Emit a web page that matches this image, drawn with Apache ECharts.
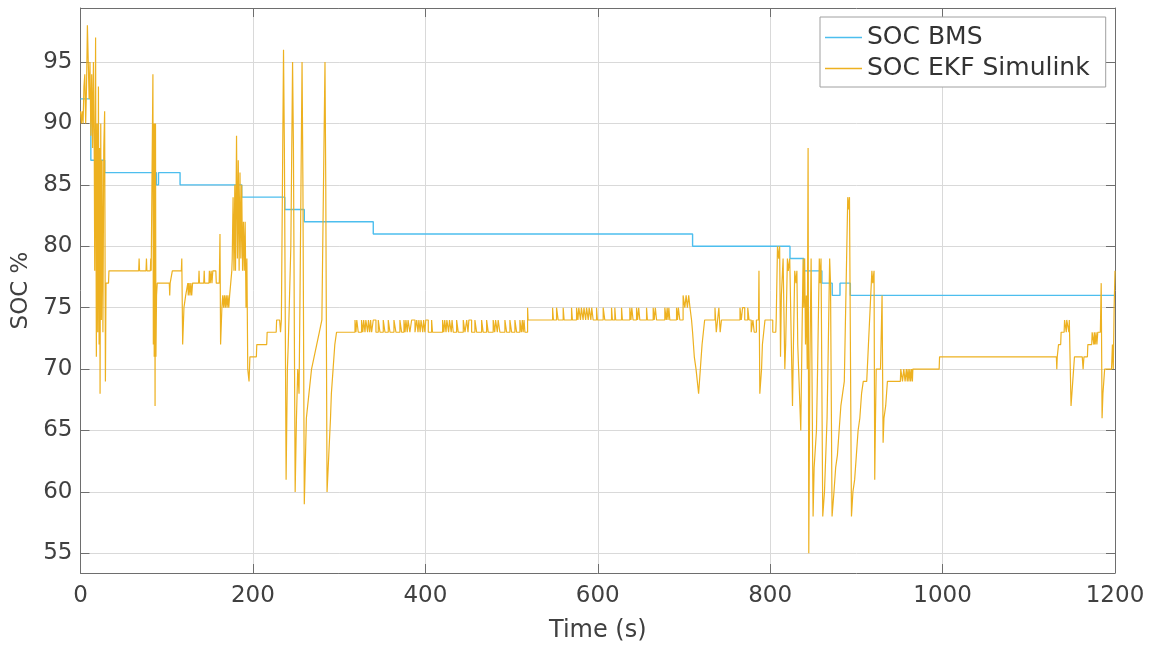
<!DOCTYPE html>
<html>
<head>
<meta charset="utf-8">
<script src="https://cdn.jsdelivr.net/npm/echarts@6/dist/echarts.min.js"></script>
<style>html,body{margin:0;padding:0;background:#fff;}#chart{width:1153px;height:648px;}</style>
</head>
<body>
<div id="chart"></div>
<script>
const seriesNames = ['SOC BMS', 'SOC EKF Simulink'];
const xTicks = [0, 200, 400, 600, 800, 1000, 1200];
const yTicks = [55, 60, 65, 70, 75, 80, 85, 90, 95];

// SOC BMS: [time s, SOC %] at each change (held until next point)
const socBms = [
  [0,92],[12,87],[28,86],[88,85],[90.5,86],[115.5,85],[187,84],[237,83],[259.6,82],[339.6,81],
  [710,80],[823,79],[839,78],[860,77],[872,76],[881,77],[893,76],[1200,76]
];

// SOC EKF Simulink: [time s, SOC %]
const socEkf = [
  [0,91],[1,90],[2,91],[3,90],[4,93],[5,94],[6,90],[7,93],[8,98],[9,95],[10,92],[11,95],[12,89],[13,94],[14,88],[15,95],[16,87],[16.5,78],[17.5,97],[18.4,71],[19.2,90],[20,73],[20.8,93],[21.6,72],[22.2,88],[22.7,68],[23.5,90],[24.2,74],[25,87],[26,73],[27,88],[28,91],[28.9,69],[29.6,77],[32.5,77],[33,78],
  [67.5,78],[68,79],[68.5,78],[76,78],[76.5,79],[77,78],[81,78],[81.5,79],[82,78],[83.5,78],[84,94],[84.5,72],[85,90],[85.5,71],[86,90],[86.5,67],[87,90],[87.5,71],[88.2,76],[89,77],
  [103,77],[103.5,76],[104,77],[106,77],[106.5,78],[117,78],[117.5,79],[118.5,72],[120,75],[121,75],[122,76],[124,76],[124.5,77],[125,76],[126,77],[127,76],[128,77],[129,76],[130,77],[137,77],[137.5,78],[138,77],[143,77],[143.5,78],[144,77],[149,77],[149.5,78],[150.5,77],[151.5,78],[152.5,77],[153.5,78],[157,78],[157.5,77],[161,77],[161.8,81],[162.5,72],[164,75],[165,76],[166,75],[167,76],[168,75],[169,76],[170,75],[171,76],[172,75],[173,76],[175,76],[175.5,78],[176,79],[177,84],[178,78],[179,85],[179.8,78],[181,89],[182,79],[183,87],[184,78],[185,86],[186,79],[187,85],[188,78],[189,82],[190,78],[191,82],[192,75],[193,79],[194,70],[195.5,69],[196.5,71],[204,71],[204.5,72],[216,72],[216.5,73],[227,73],[227.5,74],[231,74],[232,73],[233,74],
  [235.5,96],[236.5,88],[238.5,61],[240,70],[241,72],[243,72],[244,80],[246,95],[247,88],[249,60],[250.5,66],[252,70],[253.5,68],[254.5,75],[257,95],[258,85],[259.6,59],[261,63],[262,66],[264,66],[265,68],[267,68],[268,70],[270,70],[271,71],[273,71],[274,72],[276,72],[277,73],[279,73],[280,74],[281,80],[283.6,95],[284.5,85],[286,60],[288,63],[290,66],[291,68],[293,70],[295,72],[297,73],[301,73],
  [318.4,73],[318.4,74],[319.5,74],[319.5,73],[320.5,73],[320.5,74],[322.2,74],[322.2,73],
  [326,73],[326,74],[327.5,74],[327.5,73],[328.5,73],[328.5,74],[330,74],[330,73],
  [331,73],[331,74],[333,74],[333,73],[334,73],[334,74],[335.5,74],[335.5,73],
  [336.5,73],[336.5,74],[337.7,74],[337.7,73],[339.6,73],[339.6,74],[342.7,74],[342.7,73],
  [345.4,73],[345.4,74],[347.4,74],[347.4,73],[351.2,73],[351.2,74],[353.2,74],[353.2,73],
  [357,73],[357,74],[359,74],[359,73],[363.6,73],[363.6,74],[365.9,74],[365.9,73],
  [370.5,73],[370.5,74],[372.5,74],[372.5,73],[375.2,73],[375.2,74],[376.5,74],[376.5,73],
  [377.5,73],[377.5,74],[379,74],[379,73],[380,73],[380,74],[382.1,74],[382.1,73],
  [384.1,73],[384.1,74],[388,74],[388,73],[390,73],[390,74],[391.5,74],[391.5,73],
  [392.5,73],[392.5,74],[394,74],[394,73],[395,73],[395,74],[397,74],[397,73],
  [398,73],[398,74],[399.5,74],[399.5,73],[400.5,73],[400.5,74],[403.4,74],[403.4,73],
  [407.3,73],[407.3,74],[408.3,74],[408.3,73],[420,73],[420,74],[421.5,74],[421.5,73],
  [422.5,73],[422.5,74],[424,74],[424,73],[425,73],[425,74],[427,74],[427,73],
  [428,73],[428,74],[430,74],[430,73],[431,73],[431,74],[432.4,74],[432.4,73],
  [436.3,73],[436.3,74],[438.2,74],[438.2,73],[444,73],[444,74],[446,74],[446,73],
  [448,73],[448,74],[449.5,74],[449.5,73],[450.5,73],[450.5,74],[453.7,74],[453.7,73],
  [457.5,73],[457.5,74],[459.5,74],[459.5,73],[465.3,73],[465.3,74],[467.1,74],[467.1,73],
  [471.1,73],[471.1,74],[473,74],[473,73],[478.7,73],[478.7,74],[480.5,74],[480.5,73],
  [481.5,73],[481.5,74],[483.5,74],[483.5,73],[484.5,73],[484.5,74],[486.5,74],[486.5,73],
  [492.3,73],[492.3,74],[494.3,74],[494.3,73],[498.1,73],[498.1,74],[500.1,74],[500.1,73],
  [503.9,73],[503.9,74],[505.9,74],[505.9,73],[509.7,73],[509.7,74],[511.5,74],[511.5,73],
  [512.5,73],[512.5,74],[513.5,74],[513.5,73],[514.5,73],[514.5,74],[515.5,74],[515.5,73],
  [518.6,73],[518.6,75],[519.2,74],
  [547.6,74],[547.6,75],[548.6,75],[548.6,74],[552.2,74],[552.2,75],[554.1,75],[554.1,74],
  [559.9,74],[559.9,75],[561,75],[561,74],[569.6,74],[569.6,75],[570.6,75],[570.6,74],
  [575.4,74],[575.4,75],[577,75],[577,74],[578,74],[578,75],[580,75],[580,74],
  [581,74],[581,75],[583,75],[583,74],[584,74],[584,75],[586,75],[586,74],
  [587,74],[587,75],[589,75],[589,74],[590,74],[590,75],[592,75],[592,74],
  [593,74],[593,75],[594.7,75],[594.7,74],[598.6,74],[598.6,75],[599.6,75],[599.6,74],
  [606.3,74],[606.3,75],[608.2,75],[608.2,74],[616,74],[616,75],[617,75],[617,74],
  [619.8,74],[619.8,75],[620.8,75],[620.8,74],[627.6,74],[627.6,75],[628.6,75],[628.6,74],
  [637.2,74],[637.2,75],[638.5,75],[638.5,74],[639.5,74],[639.5,75],[641,75],[641,74],
  [645,74],[645,75],[646.2,75],[646.2,74],[647.5,74],[647.5,75],[648.8,75],[648.8,74],
  [656.6,74],[656.6,75],[657.6,75],[657.6,74],[664.3,74],[664.3,75],[665.5,75],[665.5,74],
  [666.8,74],[666.8,75],[668.2,75],[668.2,74],[677.8,74],[677.8,75],[679.5,75],[679.5,74],
  [680.5,74],[680.5,75],[681.5,75],[681.5,74],[682.5,74],[682.5,75],[683.6,75],[683.6,74],
  [691.4,74],[691.4,75],[692.5,75],[692.5,74],[693.5,74],[693.5,75],[695.2,75],[695.2,74],
  [699,74],[699,76],[701,76],[701,75],[702.5,75],[702.5,76],[704,76],[704,75],[705.5,75],[705.5,76],[707,76],[707,75],[708.8,75],[708.8,74],
  [710,73],[712,71],[714,70],[717,68],[719,70],[721,72],[722.5,73],[724,74],
  [736,74],[736,75],[737.5,75],[737.5,73],[739,73],[739,74],[740.5,74],[740.5,75],[742,75],[742,73],[743.5,73],[743.5,74],[745,74],
  [765,74],[765,75],[766.5,75],[766.5,74],[768,74],[768,75],[770.5,75],[770.5,74],[774,74],[774,75],[775.5,75],[775.5,74],
  [778,74],[778,73],[780,73],[780,74],[781.5,74],[781.5,73],[784,73],[784,74],[786.5,74],[787,78],[788,68],[790,70],[791,72],[792.5,73],[794,74],[803,74],[803,73],[806.5,73],[807,74],[808,74],
  [808.5,80],[810,79],[811,80],[812,71],[813,76],[815,79],[817,70],[818,72],[820,79],[821,78],[822.7,79],[825.9,67],[827,72],[828.5,78],[830,77],[831,78],[832,72],[835.5,65],[837,73],[838.2,79],[839,75],[840,79],[841,72],[842,76],[843,70],[844,88],[844.8,55],[846,70],[847.5,79],[849.8,58],[851,62],[853.7,65],[855,70],[857,79],[858,77],[859,79],[861,58],[863,60],[865,64],[866,66],[867,70],[869,79],[870,77],[871.8,58],[874,60],[876,62],[878,63],[880,65],[882,67],[884,68],[886,69],[888,69],[890,84],[891,83],[892,84],[894.3,58],[896,60],[898,61],[900,63],[902,65],[904,66],[906,68],[908,69],[912,69],[914,72],[916,75],[918,78],[919,77],[920.5,78],[921.3,61],[922,65],[923,70],[928,70],[929.8,76],[931,64],[932,66],[934,67],[935,68],[936,69],
  [951,69],[951.5,70],[953,70],[953.5,69],[954.5,69],[955,70],[956,70],[956.5,69],[957.5,69],[958,70],[959,70],[959,69],[960,69],[960,70],[961,70],[961,69],[962,69],[962,70],[963,70],[963,69],[964,69],[964,70],[965,70],[965,69],[965.5,69],[965.5,70],
  [996,70],[996.5,71],[1132,71],[1132.5,70],[1133,71],[1134.5,72],[1137,72],[1137.5,73],[1141,73],[1141.5,74],[1143,74],[1143.5,73],[1144,74],[1146,74],[1146.5,73],[1147,74],[1148,74],[1149,67],[1150,68],[1151,69],[1152,70],[1153,71],[1162,71],[1163,70],[1164,71],[1168,71],[1168.5,72],[1173,72],[1173.5,73],[1175,73],[1175.5,72],[1176,73],[1177,72],[1178,73],[1179,72],[1180,73],[1183,73],[1184,77],[1185,66],[1186,68],[1187,69],[1188,70],[1196,70],[1197,72],[1198,70],[1199,75],[1200,78]
];

const FONT = 'DejaVu Sans';
const AXIS_COLOR = '#6e6e6e';
const TEXT_COLOR = '#404040';
const GRID_COLOR = '#d9d9d9';
const BMS_COLOR = '#4DBEEE';
const EKF_COLOR = '#EDB120';

const chart = echarts.init(document.getElementById('chart'), null, {renderer: 'canvas'});

function xAxisBase(pos) {
  return {
    type: 'value', min: 0, max: 1200, interval: 200, position: pos,
    axisLine: {show: true, onZero: false, lineStyle: {color: AXIS_COLOR, width: 1}},
    axisTick: {show: true, inside: true, length: 9, lineStyle: {color: AXIS_COLOR}},
    axisLabel: {show: pos === 'bottom', fontSize: 23, color: TEXT_COLOR, fontFamily: FONT, margin: 12,
      formatter: v => xTicks.indexOf(v) >= 0 ? String(v) : ''},
    splitLine: {show: pos === 'bottom', lineStyle: {color: GRID_COLOR, width: 1}}
  };
}
function yAxisBase(pos) {
  return {
    type: 'value', min: 53.4, max: 99.4, position: pos,
    axisLine: {show: true, onZero: false, lineStyle: {color: AXIS_COLOR, width: 1}},
    axisTick: {show: true, inside: true, length: 9, customValues: yTicks, lineStyle: {color: AXIS_COLOR}},
    axisLabel: {show: pos === 'left', customValues: yTicks, fontSize: 23, color: TEXT_COLOR, fontFamily: FONT, margin: 8},
    splitLine: {show: pos === 'left', lineStyle: {color: GRID_COLOR, width: 1}}
  };
}

const xBottom = Object.assign(xAxisBase('bottom'), {
  name: 'Time (s)', nameLocation: 'middle', nameGap: 46,
  nameTextStyle: {fontSize: 24, color: TEXT_COLOR, fontFamily: FONT}
});
const xTop = xAxisBase('top');
const yLeft = Object.assign(yAxisBase('left'), {
  name: 'SOC %', nameLocation: 'middle', nameGap: 44,
  nameTextStyle: {fontSize: 23, color: TEXT_COLOR, fontFamily: FONT}
});
const yRight = yAxisBase('right');

chart.setOption({
  animation: false,
  backgroundColor: '#ffffff',
  grid: {left: 80.5, right: 38, top: 8, bottom: 75, containLabel: false},
  legend: {
    orient: 'vertical', left: 820, top: 17,
    backgroundColor: '#ffffff', borderColor: '#a0a0a0', borderWidth: 1, borderRadius: 0,
    padding: [8, 16, 6, 5], itemWidth: 37, itemHeight: 1.5, itemGap: 6,
    textStyle: {fontSize: 25, color: '#333333', fontFamily: FONT, lineHeight: 25},
    data: [
      {name: seriesNames[0], icon: 'rect', itemStyle: {color: BMS_COLOR}},
      {name: seriesNames[1], icon: 'rect', itemStyle: {color: EKF_COLOR}}
    ]
  },
  xAxis: [xBottom, xTop],
  yAxis: [yLeft, yRight],
  series: [
    {
      name: seriesNames[0], type: 'line', xAxisIndex: 0, yAxisIndex: 0,
      data: socBms, step: 'end', symbol: 'none', showSymbol: false,
      lineStyle: {color: BMS_COLOR, width: 1.4}, itemStyle: {color: BMS_COLOR}
    },
    {
      name: seriesNames[1], type: 'line', xAxisIndex: 0, yAxisIndex: 0,
      data: socEkf, symbol: 'none', showSymbol: false, sampling: null,
      lineStyle: {color: EKF_COLOR, width: 1.2}, itemStyle: {color: EKF_COLOR}
    }
  ]
});
</script>
</body>
</html>
